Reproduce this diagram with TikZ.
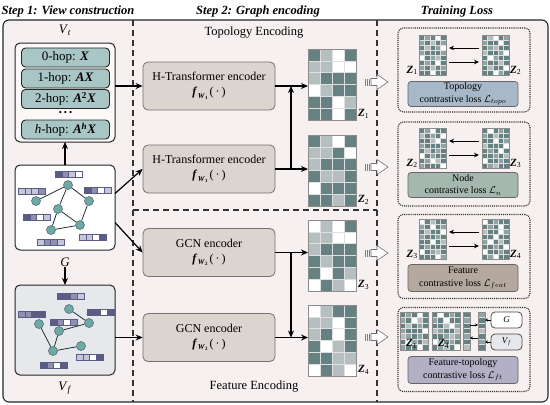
\documentclass[tikz,border=0pt]{standalone}
\usepackage{fontspec}
\setmainfont{Liberation Serif}
\usetikzlibrary{arrows.meta}
\definecolor{bgpink}{HTML}{F6F0F0}
\definecolor{hopfill}{HTML}{A9C6C6}
\definecolor{encfill}{HTML}{DCD4CF}
\definecolor{vffill}{HTML}{E6E8EB}
\definecolor{zd}{HTML}{668181}
\definecolor{zm}{HTML}{91A3A3}
\definecolor{zl}{HTML}{B6BFBF}
\definecolor{zw}{HTML}{FFFFFF}
\definecolor{pd}{HTML}{5B5C85}
\definecolor{pm}{HTML}{8E8FB2}
\definecolor{pl}{HTML}{C6C6DA}
\definecolor{pw}{HTML}{FFFFFF}
\definecolor{ntopo}{HTML}{A7B9C8}
\definecolor{nnode}{HTML}{A5B8AF}
\definecolor{nfeat}{HTML}{B5A99F}
\definecolor{nft}{HTML}{B3AFC5}
\definecolor{gnode}{HTML}{6FA8A6}
\newcommand\zgrid[6]{%
  \foreach \cz [count=\ii from 0] in {#6}{%
    \pgfmathtruncatemacro\cc{mod(\ii,#3)}%
    \pgfmathtruncatemacro\rr{div(\ii,#3)}%
    \path[fill=z\cz,draw=white!75!gray,line width=0.4pt] ({#1+\cc*#4},{#2+\rr*#5}) rectangle ++(#4,#5);
  }}
\newcommand\fbar[3]{%
  \foreach \cz [count=\ii from 0] in {#3}{%
    \path[fill=p\cz,draw=pd,line width=0.3pt] ({#1+\ii*6.8},{#2}) rectangle ++(6.8,5.8);
  }}
\newcommand\hollowarrow[1]{%
  \foreach \xx in {365.5,367.5,369.5}{\draw[gray,line width=0.5pt] (\xx,{#1-3.5}) -- (\xx,{#1+3.5});}
  \draw[gray!90!black,fill=white,line width=0.6pt] (371,{#1-3.5}) -- (377,{#1-3.5}) -- (377,{#1-7.5}) -- (388,{#1}) -- (377,{#1+7.5}) -- (377,{#1+3.5}) -- (371,{#1+3.5}) -- cycle;}
\newcommand\fW[1]{\textbf{\textit{f}}\kern0.5pt\raisebox{-2.5pt}{\fontsize{7.5}{7.5}\selectfont\textbf{\textit{W}}\kern0.3pt\raisebox{-1pt}{\fontsize{5}{5}\selectfont\textbf{#1}}}\,(\,·\,)}
\newcommand\zl[1]{\textbf{\textit{Z}}\textsubscript{#1}}
\begin{document}
\begin{tikzpicture}[x=1pt,y=-1pt,
  title/.style={font=\fontsize{12.5}{13}\selectfont\bfseries\itshape, inner sep=0pt},
  frame/.style={draw=black!85, line width=1.1pt, fill=bgpink, rounded corners=6pt},
  divider/.style={draw=black!80, line width=1.1pt, dash pattern=on 6pt off 4pt},
  lab/.style={font=\fontsize{13}{13}\selectfont, inner sep=0pt},
  panelbox/.style={draw=black!85, line width=1pt, rounded corners=5pt, inner sep=0pt, outer sep=0pt, anchor=north west},
  hop/.style={draw=black!85, line width=0.9pt, fill=hopfill, rounded corners=4pt, minimum width=88pt, minimum height=19pt, inner sep=0pt, font=\fontsize{13}{13}\selectfont},
  gn/.style={circle, fill=gnode, draw=gnode!60!black, line width=0.5pt, minimum size=9pt, inner sep=0pt},
  ge/.style={draw=black!70!gnode, line width=0.8pt},
  enc/.style={draw=black!55, line width=0.8pt, fill=encfill, rounded corners=5pt, minimum width=132pt, minimum height=48pt, align=center, font=\fontsize{12}{15}\selectfont},
  sub/.style={font=\fontsize{12.5}{13}\selectfont, inner sep=0pt},
  zbox/.style={draw=black!45, line width=0.6pt, inner sep=0pt, outer sep=0pt, anchor=north west},
  zlab/.style={font=\fontsize{11}{11}\selectfont, inner sep=0pt},
  arr/.style={draw=black, line width=1.2pt, -{Stealth[length=7pt,width=6pt]}},
  arr2/.style={draw=black, line width=1pt, -{Stealth[length=5pt,width=4.5pt]}, shorten >=3pt, shorten <=3pt},
  arr3/.style={draw=black, line width=0.6pt, -{Stealth[length=3pt,width=3pt]}},
  dbox/.style={draw=black!80, line width=1.1pt, densely dotted, rounded corners=5pt, minimum width=132pt, minimum height=84pt, inner sep=0pt},
  loss/.style={draw=black!60, line width=0.7pt, rounded corners=3pt, minimum width=110pt, minimum height=25pt, inner sep=0.5pt, align=center, font=\fontsize{10}{12.5}\selectfont},
  sbox/.style={draw=black!70, line width=0.8pt, rounded corners=4pt, minimum width=31pt, minimum height=16pt, inner sep=0pt, font=\fontsize{9}{9}\selectfont},
]
\useasboundingbox (0,0) rectangle (550,405);
% titles
\node[title] (t1) at (68,11) {Step 1: View construction};
\node[title] (t2) at (258,11) {Step 2: Graph encoding};
\node[title] (t3) at (457,11) {Training Loss};
% frame
\path[frame] (3,20) rectangle (548,402);
\draw[divider] (133,20) -- (133,402);
\draw[divider] (377,20) -- (377,402);
\draw[divider] (133,210) -- (377,210);

% ---------- left panel ----------
\node[lab] (vtl) at (65,30) {\textit{V}\textsubscript{\textit{t}}};
\node[panelbox, fill=white!55!bgpink, minimum width=100pt, minimum height=99pt] (VT) at (15,43) {};
\node[hop] (h0) at (65.5,57.5) {0-hop: \textbf{\textit{X}}};
\node[hop] (h1) at (65.5,78.5) {1-hop: \textbf{\textit{AX}}};
\node[hop] (h2) at (65.5,99) {2-hop: \textbf{\textit{A}}\textsuperscript{\textbf{2}}\textbf{\textit{X}}};
\node[font=\fontsize{9}{9}\selectfont, inner sep=0pt] (hd) at (65.5,113.5) {•\hspace{2pt}•\hspace{2pt}•};
\node[hop] (hh) at (65.5,129.5) {\textit{h}-hop: \textbf{\textit{A}}\textsuperscript{\textbf{\textit{h}}}\textbf{\textit{X}}};

\node[panelbox, fill=white, minimum width=100pt, minimum height=85pt] (Gb) at (15,165) {};
\fbar{55}{171}{d,m,l,w}
\fbar{18}{188}{l,l,l,m}
\fbar{84}{187}{d,m,w,l}
\fbar{23}{214}{d,m,w,l}
\fbar{79}{234}{l,l,w,d}
\fbar{37}{239}{l,m,m,l}
\node[gn] (g1) at (68,185) {};
\node[gn] (g2) at (36,201) {};
\node[gn] (g3) at (89,201) {};
\node[gn] (g4) at (58,209) {};
\node[gn] (g5) at (80,225) {};
\node[gn] (g6) at (51,230) {};
\draw[ge] (g2) -- (g1) (g1) -- (g4) (g1) -- (g3) (g3) -- (g5) (g4) -- (g5) (g4) -- (g6) (g6) -- (g5);

\node[lab] (Gl) at (65,262) {\textit{G}};
\node[panelbox, fill=vffill, minimum width=100pt, minimum height=90pt] (VF) at (15,285) {};
\fbar{57}{293}{d,d,m,l}
\fbar{18}{311}{m,m,d,d}
\fbar{87}{309}{d,d,w,d}
\fbar{50}{319}{d,m,w,m}
\fbar{76}{354}{l,l,w,d}
\fbar{40}{362}{d,m,w,d}
\node[gn] (a1) at (69,309) {};
\node[gn] (a2) at (39,324) {};
\node[gn] (a3) at (89,323) {};
\node[gn] (a4) at (59,331) {};
\node[gn] (a5) at (81,346) {};
\node[gn] (a6) at (53,351) {};
\draw[ge] (a1) -- (a3) (a4) -- (a3) (a4) -- (a6) (a2) -- (a6) (a6) -- (a5);
\node[lab] (vfl) at (65,388) {\textit{V}\textsubscript{\textit{f}}};

\draw[arr] (Gb.north) -- (VT.south);
\draw[arr] (Gl.south) -- (VF.north);

% ---------- middle panel ----------
\node[sub] (te) at (254,33) {Topology Encoding};
\node[sub] (fe) at (254,387) {Feature Encoding};
\node[enc] (E1) at (209,86) {H-Transformer encoder\\ \fW{1}};
\node[enc] (E2) at (209,169) {H-Transformer encoder\\ \fW{1}};
\node[enc] (C1) at (209,252.5) {GCN encoder\\ \fW{2}};
\node[enc] (C2) at (209,337.5) {GCN encoder\\ \fW{2}};

\draw[arr] (VT.east |- E1.west) -- (E1.west);
\draw[arr] ([yshift=14pt]Gb.east) -- (E2.west);
\draw[arr] ([yshift=-15pt]Gb.east) -- (C1.west);
\draw[arr] (VF.east |- C2.west) -- (C2.west);

\zgrid{308}{49}{4}{12}{11.8}{d,l,w,d, l,l,w,w, l,d,d,d, w,l,d,d, d,d,w,l, d,d,w,d}
\node[zbox, minimum width=48pt, minimum height=70.8pt] (Z1) at (308,49) {};
\zgrid{308}{135}{4}{12}{11.8}{d,l,w,d, l,l,d,w, l,d,d,d, d,l,l,d, w,d,d,d, d,d,l,d}
\node[zbox, minimum width=48pt, minimum height=70.8pt] (Z2) at (308,135) {};
\zgrid{308}{220}{4}{12}{11.8}{w,l,w,d, l,l,w,w, l,d,d,d, d,l,d,d, d,w,d,l, w,d,l,w}
\node[zbox, minimum width=48pt, minimum height=70.8pt] (Z3) at (308,220) {};
\zgrid{308}{305}{4}{12}{11.8}{w,l,d,d, l,l,w,d, l,d,w,d, d,w,l,d, d,d,l,l, w,d,l,w}
\node[zbox, minimum width=48pt, minimum height=70.8pt] (Z4) at (308,305) {};
\node[zlab, anchor=south west] (Z1l) at ([xshift=2pt,yshift=1pt]Z1.south east) {\zl{1}};
\node[zlab, anchor=south west] (Z2l) at ([xshift=2pt,yshift=1pt]Z2.south east) {\zl{2}};
\node[zlab, anchor=south west] (Z3l) at ([xshift=2pt,yshift=1pt]Z3.south east) {\zl{3}};
\node[zlab, anchor=south west] (Z4l) at ([xshift=2pt,yshift=1pt]Z4.south east) {\zl{4}};

\coordinate (jt) at (291,0);
\draw[arr] (E1.east) -- (E1.east -| Z1.west);
\draw[arr] (E2.east) -- (E2.east -| Z2.west);
\draw[arr] (C1.east) -- (C1.east -| Z3.west);
\draw[arr] (C2.east) -- (C2.east -| Z4.west);
\draw[arr] (E2.east -| jt) -- (E1.east -| jt);
\draw[arr] (C1.east -| jt) -- (C2.east -| jt);

\hollowarrow{82}
\hollowarrow{167}
\hollowarrow{253}
\hollowarrow{337}

% ---------- right panel ----------
\node[dbox] (B1) at (464,70) {};
\node[dbox] (B2) at (464,164) {};
\node[dbox] (B3) at (464,256.5) {};
\node[dbox] (B4) at (464,349.5) {};

% box 1
\zgrid{419}{35}{5}{5.4}{5}{d,m,d,w,d, m,d,l,d,m, d,l,d,m,w, m,d,d,d,m, w,d,m,l,d, d,m,d,w,d, m,d,l,d,m, d,d,w,d,d}
\node[zbox, minimum width=27pt, minimum height=40pt] (m1a) at (419,35) {};
\zgrid{482}{35}{5}{5.4}{5}{d,l,w,d,m, m,d,d,w,d, d,m,l,d,d, l,d,d,m,w, d,w,m,d,d, m,d,d,l,d, d,l,d,d,w, d,d,w,m,d}
\node[zbox, minimum width=27pt, minimum height=40pt] (m1b) at (482,35) {};
\draw[arr2] ([yshift=7pt]m1b.west) -- ([yshift=7pt]m1a.east);
\draw[arr2] ([yshift=-7pt]m1a.east) -- ([yshift=-7pt]m1b.west);
\node[zlab, anchor=south east] at ([xshift=-1pt]m1a.south west) {\zl{1}};
\node[zlab, anchor=south west] at ([xshift=1pt]m1b.south east) {\zl{2}};
\node[loss, fill=ntopo] (L1) at (463,94) {Topology\\contrastive loss $\mathcal{L}_{topo}$};

% box 2
\zgrid{419}{128}{5}{5.4}{5}{d,m,w,d,d, l,d,m,d,w, d,d,l,w,d, m,d,d,d,m, d,l,d,m,d, w,d,m,d,d, d,m,w,l,d, m,d,d,d,w}
\node[zbox, minimum width=27pt, minimum height=40pt] (m2a) at (419,128) {};
\zgrid{482}{128}{5}{5.4}{5}{d,w,d,m,d, m,d,l,d,d, d,d,w,d,m, l,d,d,d,w, d,m,d,w,d, d,d,m,d,l, w,d,d,m,d, d,m,l,d,d}
\node[zbox, minimum width=27pt, minimum height=40pt] (m2b) at (482,128) {};
\draw[arr2] ([yshift=7pt]m2b.west) -- ([yshift=7pt]m2a.east);
\draw[arr2] ([yshift=-7pt]m2a.east) -- ([yshift=-7pt]m2b.west);
\node[zlab, anchor=south east] at ([xshift=-1pt]m2a.south west) {\zl{2}};
\node[zlab, anchor=south west] at ([xshift=1pt]m2b.south east) {\zl{3}};
\node[loss, fill=nnode] (L2) at (463,185) {Node\\contrastive loss $\mathcal{L}_{n}$};

% box 3
\zgrid{419}{219}{5}{5.4}{5}{w,d,l,d,d, m,d,w,d,m, d,l,d,d,w, m,d,d,m,d, d,d,w,d,l, d,m,d,d,d, w,d,m,l,d, d,d,d,w,m}
\node[zbox, minimum width=27pt, minimum height=40pt] (m3a) at (419,219) {};
\zgrid{482}{219}{5}{5.4}{5}{w,d,m,d,d, d,m,d,w,d, l,d,d,w,m, d,d,w,d,d, m,w,d,l,d, d,d,m,d,w, w,d,d,m,d, d,m,w,d,d}
\node[zbox, minimum width=27pt, minimum height=40pt] (m3b) at (482,219) {};
\draw[arr2] ([yshift=7pt]m3b.west) -- ([yshift=7pt]m3a.east);
\draw[arr2] ([yshift=-7pt]m3a.east) -- ([yshift=-7pt]m3b.west);
\node[zlab, anchor=south east] at ([xshift=-1pt]m3a.south west) {\zl{3}};
\node[zlab, anchor=south west] at ([xshift=1pt]m3b.south east) {\zl{4}};
\node[loss, fill=nfeat, minimum height=27pt] (L3) at (463,278) {Feature\\contrastive loss $\mathcal{L}_{feat}$};

% box 4
\zgrid{400}{312}{5}{5.6}{5.4}{d,m,d,w,d, m,d,w,l,d, d,l,d,m,d, m,d,d,d,w, l,m,d,m,d, d,w,m,d,l, m,d,d,w,d}
\node[zbox, minimum width=28pt, minimum height=37.8pt] (m4a) at (400,312) {};
\zgrid{432}{312}{5}{5.6}{5.4}{d,w,d,m,d, m,d,w,d,d, d,d,l,w,m, l,m,d,d,l, d,d,m,l,m, w,l,d,m,d, d,m,l,d,w}
\node[zbox, minimum width=28pt, minimum height=37.8pt] (m4b) at (432,312) {};
\node[zlab, anchor=south west] at ([xshift=6pt,yshift=1pt]m4a.south west) {\zl{1}};
\node[zlab, anchor=south west] at ([xshift=6pt,yshift=1pt]m4b.south west) {\zl{4}};
\zgrid{463}{312}{1}{7}{5.4}{d,m,d,d,m,d,l}
\node[zbox, minimum width=7pt, minimum height=37.8pt] (c1) at (463,312) {};
\zgrid{478}{312}{1}{7}{5.4}{m,d,d,l,d,m,d}
\node[zbox, minimum width=7pt, minimum height=37.8pt] (c2) at (478,312) {};
\node[sbox, fill=white] (sG) at (506.5,320) {\textit{G}};
\node[sbox, fill=vffill] (sV) at (506.5,342) {\textit{V}\textsubscript{\textit{f}}};
\draw[arr3] (sG.west) -- (sG.west -| c2.east);
\draw[arr3] (sV.west) -- (sV.west -| c2.east);
\draw[arr3] ([yshift=6pt]c1.east) -- ([yshift=6pt]c2.west);
\draw[arr3] ([yshift=-7pt]c2.west) -- ([yshift=-7pt]c1.east);
\node[loss, fill=nft, minimum height=27pt] (L4) at (463,370) {Feature-topology\\contrastive loss $\mathcal{L}_{ft}$};
\end{tikzpicture}
\end{document}
